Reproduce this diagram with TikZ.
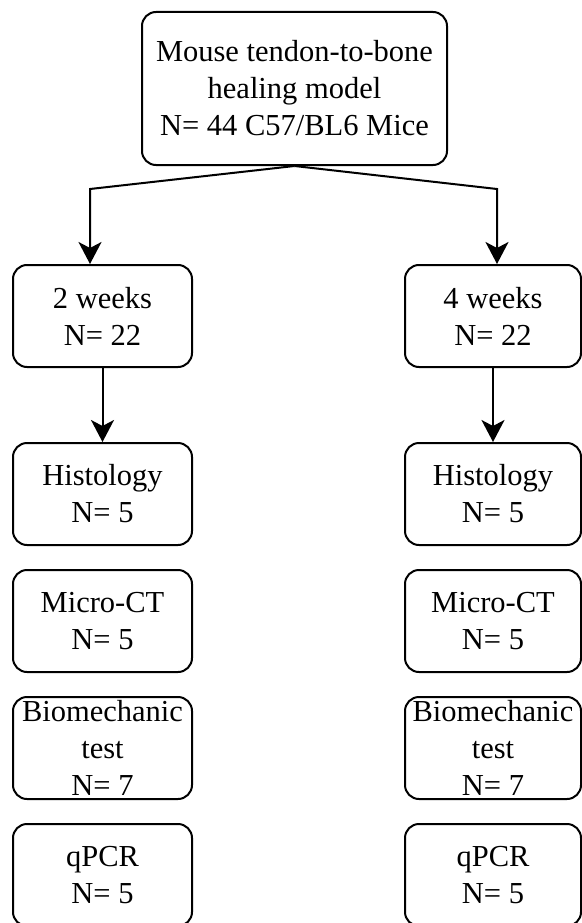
\documentclass[tikz,border=0pt]{standalone}
\usepackage{fontspec}
\setmainfont{Liberation Serif}
\usetikzlibrary{arrows.meta, positioning}
\tikzset{
  stage/.style={draw, line width=2pt, rounded corners=14pt, align=center, inner sep=0pt,
    minimum width=179pt, minimum height=102pt, font=\fontsize{30.5}{37}\selectfont},
  stageR/.style={stage, minimum width=176pt},
  flow/.style={-{Stealth[length=22pt,width=23pt,inset=6pt]}, line width=2pt}
}

\begin{document}
\begin{tikzpicture}[x=1pt, y=1pt, node distance=23pt]
\useasboundingbox (0,0) rectangle (581,-923);
% model
\node[stage, minimum width=305pt, minimum height=153pt] (model) at (294.5,-88.5) {Mouse tendon-to-bone\\healing model\\N= 44 C57/BL6 Mice};
% left column: 2 weeks
\node[stage] (w2) at (102.5,-316) {2 weeks\\N= 22};
\node[stage, below=74pt of w2] (hist2) {Histology\\N= 5};
\node[stage, below=of hist2] (ct2) {Micro-CT\\N= 5};
\node[stage, below=of ct2] (bio2) {};
\node[font=\fontsize{30.5}{37}\selectfont, align=center, inner sep=0pt] (bio2t) at (bio2) {Biomechanic\\test\\N= 7};
\node[stage, below=of bio2] (pcr2) {qPCR\\N= 5};
% right column: 4 weeks
\node[stageR] (w4) at (493,-316) {4 weeks\\N= 22};
\node[stageR, below=74pt of w4] (hist4) {Histology\\N= 5};
\node[stageR, below=of hist4] (ct4) {Micro-CT\\N= 5};
\node[stageR, below=of ct4] (bio4) {};
\node[font=\fontsize{30.5}{37}\selectfont, align=center, inner sep=0pt] (bio4t) at (bio4) {Biomechanic\\test\\N= 7};
\node[stageR, below=of bio4] (pcr4) {qPCR\\N= 5};
% arrows
\coordinate (split2) at (90,-189);
\coordinate (split4) at (497,-189);
\draw[flow] (model.south) -- (split2) -- (split2 |- w2.north);
\draw[flow] (model.south) -- (split4) -- (split4 |- w4.north);
\draw[flow] (w2) -- (hist2);
\draw[flow] (w4) -- (hist4);
\end{tikzpicture}
\end{document}
